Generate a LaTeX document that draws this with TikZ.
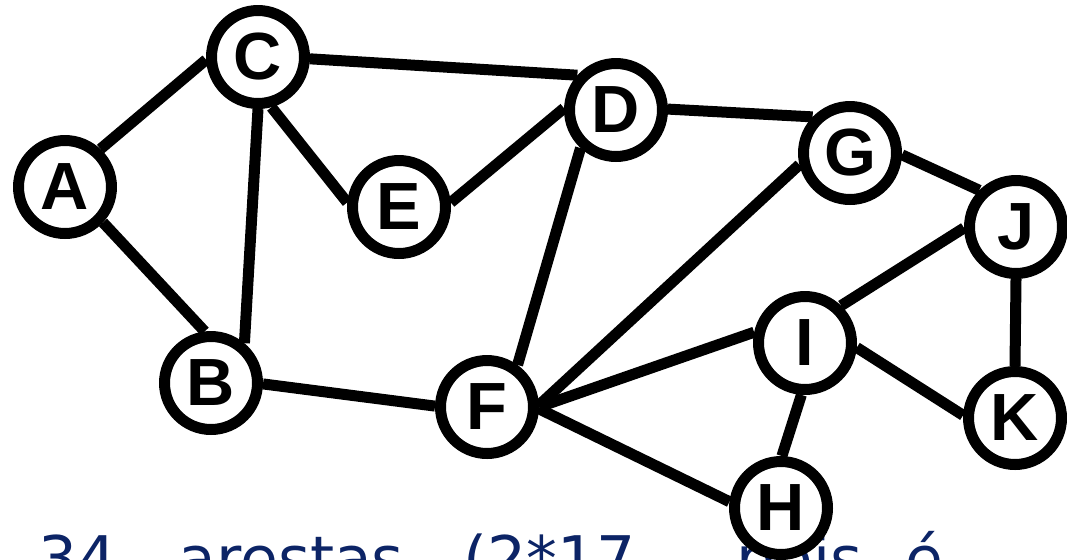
\documentclass[tikz,border=0pt]{standalone}
\usepackage{fontspec}
\setmainfont{Liberation Sans}
\newfontfamily\notefont{DejaVu Sans}
\usetikzlibrary{positioning}
\definecolor{notenavy}{RGB}{12,36,102}

\begin{document}
\begin{tikzpicture}[
  x=0.02cm, y=-0.02cm,
  vertex/.style={circle, draw=black, fill=white, line width=0.22cm, minimum size=1.86cm, inner sep=0pt,
    font=\fontsize{38}{38}\selectfont\bfseries},
  edge/.style={line width=0.22cm},
  note/.style={anchor=base west, inner sep=0pt, text=notenavy, font=\notefont\fontsize{35}{42}\selectfont}
]

\useasboundingbox (0,0) rectangle (1067,559);

% caption line, partly hidden behind H
\node[note] (count) at (38,580) {34\hspace{1.24cm}arestas\hspace{1.2cm}(2*17,\hspace{1.62cm}pois\hspace{0.86cm}é};

\node[vertex] (A) at (65,187) {A};
\node[vertex] (C) at (258,57) {C};
\node[vertex] (B) at (211,383) {B};
\node[vertex] (E) at (399,207) {E};
\node[vertex] (D) at (616,110) {D};
\node[vertex] (F) at (487,407) {F};
\node[vertex] (G) at (850,153) {G};
\node[vertex] (J) at (1016,227) {J};
\node[vertex] (I) at (805,343) {I};
\node[vertex] (K) at (1015,418) {K};
\node[vertex] (H) at (781,508) {H};

% edges: node/angle -- node/angle
\foreach \u/\a/\v/\b in {A/47/C/183, A/-43/B/97, C/270/B/50, C/285/E/175, C/-2/D/138,
    E/5/D/178, D/1/G/136, D/227/F/54, G/193/F/2, G/-2/J/135, J/181/I/46, J/270/K/90,
    I/-5/K/177, I/266/H/89, I/168/F/0, F/-2/H/173, B/-1/F/179}
  \draw[edge] (\u.\a) -- (\v.\b);

\end{tikzpicture}
\end{document}
